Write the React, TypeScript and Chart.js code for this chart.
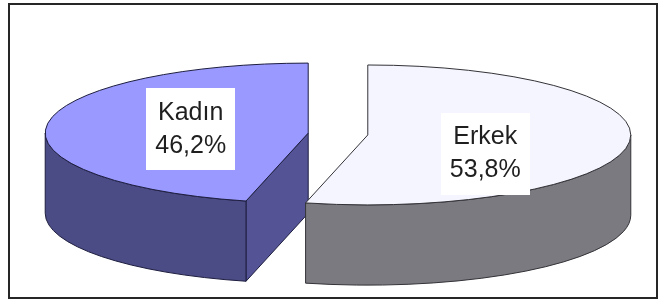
import { useEffect, useRef } from 'react';
import { Chart, registerables } from 'chart.js';

Chart.register(...registerables);

// ---- data ----
const categories: string[] = ['Erkek', 'Kadın'];
const shares: number[] = [53.8, 46.2];

// ---- styles ----
const topColors: string[] = ['#F5F5FF', '#9999FF'];
const sideColors: string[] = ['#7A7A80', '#4B4B85'];
const cutColors: string[] = ['#80808A', '#535396'];
const edgeColors: string[] = ['#333338', '#1E1E40'];

const H_STRETCH = 2.424; // horizontal radius relative to library radius
const TILT = 0.266; // vertical/horizontal ratio of the top ellipse
const DEPTH = 0.305; // extrusion depth relative to horizontal radius
const LABEL_FRAC = 0.45;
const LABEL_NUDGE_Y: number[] = [15, 0];
const FONT = '25px "Liberation Sans", Arial, sans-serif';

type Geo = {
  cx: number; cy: number; rx: number; ry: number; depth: number;
  s: number; e: number; mid: number; i: number;
};

const pie3d = {
  id: 'pie3d',
  beforeDraw(chart: any) {
    const ctx = chart.ctx as CanvasRenderingContext2D;
    ctx.save();
    ctx.fillStyle = '#ffffff';
    ctx.fillRect(0, 0, chart.width, chart.height);
    ctx.strokeStyle = '#262626';
    ctx.lineWidth = 2;
    ctx.strokeRect(9, 4, chart.width - 11, chart.height - 6);
    ctx.restore();
  },
  beforeDatasetsDraw(chart: any) {
    const ctx = chart.ctx as CanvasRenderingContext2D;
    const meta = chart.getDatasetMeta(0);
    const arcs = meta.data as any[];
    const total = shares.reduce((a, b) => a + b, 0);

    const geos: Geo[] = arcs.map((el, i) => {
      const p = el.getProps(['x', 'y', 'startAngle', 'endAngle', 'outerRadius'], true);
      const rx = p.outerRadius * H_STRETCH;
      const ry = rx * TILT;
      const depth = rx * DEPTH;
      const mid = (p.startAngle + p.endAngle) / 2;
      const off = el.options.offset || 0;
      return {
        cx: p.x + Math.cos(mid) * off,
        cy: p.y + Math.sin(mid) * off * TILT,
        rx, ry, depth,
        s: p.startAngle, e: p.endAngle, mid, i,
      };
    });

    const pt = (g: Geo, t: number, h: number): [number, number] => [
      g.cx + g.rx * Math.cos(t),
      g.cy + g.ry * Math.sin(t) + h,
    ];

    ctx.save();
    ctx.lineJoin = 'round';
    ctx.lineWidth = 1;

    // 1. radial cut faces
    geos.forEach((g) => {
      const faces: number[] = [];
      if (Math.cos(g.s) < -1e-6) faces.push(g.s);
      if (Math.cos(g.e) > 1e-6) faces.push(g.e);
      faces.forEach((t) => {
        const a = pt(g, t, 0);
        const b = pt(g, t, g.depth);
        ctx.beginPath();
        ctx.moveTo(g.cx, g.cy);
        ctx.lineTo(a[0], a[1]);
        ctx.lineTo(b[0], b[1]);
        ctx.lineTo(g.cx, g.cy + g.depth);
        ctx.closePath();
        ctx.fillStyle = cutColors[g.i];
        ctx.fill();
        ctx.strokeStyle = edgeColors[g.i];
        ctx.stroke();
      });
    });

    // 2. outer curved sides (front half only)
    geos.forEach((g) => {
      for (let k = -1; k <= 1; k++) {
        const lo = Math.max(g.s, 2 * Math.PI * k);
        const hi = Math.min(g.e, 2 * Math.PI * k + Math.PI);
        if (hi - lo <= 1e-6) continue;
        ctx.beginPath();
        ctx.ellipse(g.cx, g.cy, g.rx, g.ry, 0, lo, hi, false);
        ctx.ellipse(g.cx, g.cy + g.depth, g.rx, g.ry, 0, hi, lo, true);
        ctx.closePath();
        ctx.fillStyle = sideColors[g.i];
        ctx.fill();
        ctx.strokeStyle = edgeColors[g.i];
        ctx.stroke();
      }
    });

    // 3. top faces
    geos.forEach((g) => {
      ctx.beginPath();
      ctx.moveTo(g.cx, g.cy);
      ctx.ellipse(g.cx, g.cy, g.rx, g.ry, 0, g.s, g.e, false);
      ctx.closePath();
      ctx.fillStyle = topColors[g.i];
      ctx.fill();
      ctx.strokeStyle = edgeColors[g.i];
      ctx.stroke();
    });

    // 4. labels
    ctx.font = FONT;
    ctx.textAlign = 'center';
    ctx.textBaseline = 'middle';
    geos.forEach((g) => {
      const pct = ((shares[g.i] / total) * 100).toFixed(1).replace('.', ',') + '%';
      const lines = [categories[g.i], pct];
      const mx = g.cx + LABEL_FRAC * g.rx * Math.cos(g.mid);
      const my = g.cy + LABEL_FRAC * g.ry * Math.sin(g.mid) + LABEL_NUDGE_Y[g.i];
      const w = Math.max(...lines.map((l) => ctx.measureText(l).width)) + 18;
      const h = 82;
      ctx.fillStyle = '#ffffff';
      ctx.fillRect(Math.round(mx - w / 2), Math.round(my - h / 2), Math.round(w), h);
      ctx.fillStyle = '#1f1f1f';
      ctx.fillText(lines[0], mx, my - 16.5);
      ctx.fillText(lines[1], mx, my + 16.5);
    });

    ctx.restore();
    return false;
  },
};

export default function App() {
  const ref = useRef<HTMLCanvasElement | null>(null);

  useEffect(() => {
    if (!ref.current) return;
    const chart = new Chart(ref.current, {
      type: 'pie',
      data: {
        labels: categories,
        datasets: [
          {
            data: shares,
            backgroundColor: topColors,
            borderColor: edgeColors,
            borderWidth: 1,
            offset: 30,
          },
        ],
      },
      options: {
        animation: false,
        responsive: true,
        maintainAspectRatio: false,
        events: [],
        layout: { padding: { left: 27, right: 10, top: 10, bottom: 42 } },
        plugins: {
          legend: { display: false },
          tooltip: { enabled: false },
        },
      },
      plugins: [pie3d],
    });
    return () => chart.destroy();
  }, []);

  return (
    <div style={{ position: 'fixed', left: 0, top: 0, width: 659, height: 300, background: '#fff' }}>
      <canvas ref={ref} />
    </div>
  );
}
